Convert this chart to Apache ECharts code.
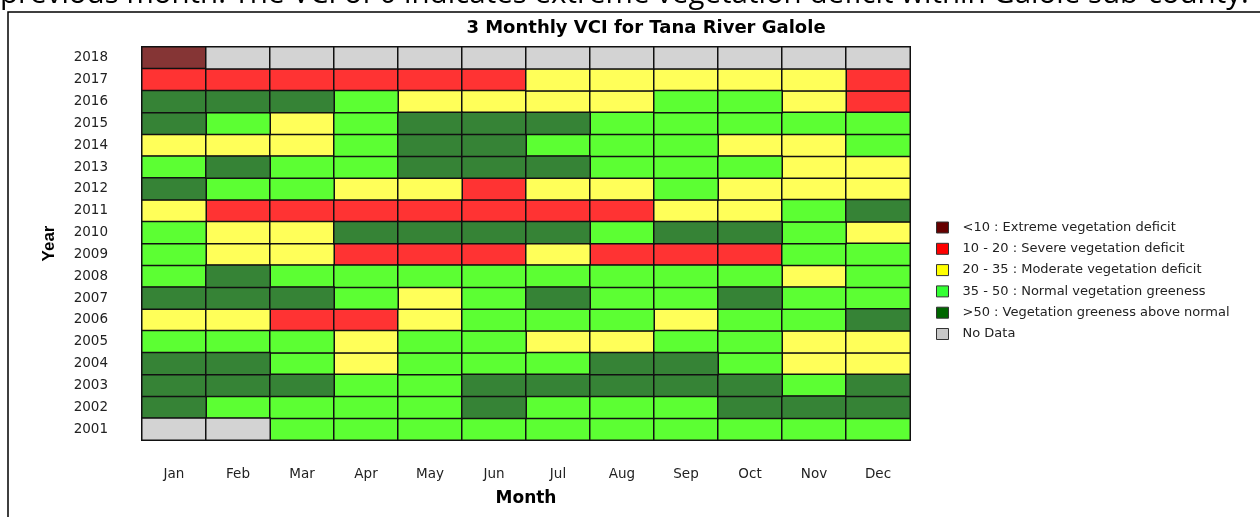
<!DOCTYPE html>
<html>
<head>
<meta charset="utf-8">
<script src="https://cdn.jsdelivr.net/npm/echarts@6/dist/echarts.min.js"></script>
<style>html,body{margin:0;padding:0;background:#fff}#c{width:1260px;height:517px}</style>
</head>
<body>
<div id="c"></div>
<script>
// Month categories (x axis)
const months = ['Jan','Feb','Mar','Apr','May','Jun','Jul','Aug','Sep','Oct','Nov','Dec'];
// Year categories (y axis, bottom to top)
const years = ['2001','2002','2003','2004','2005','2006','2007','2008','2009','2010','2011','2012','2013','2014','2015','2016','2017','2018'];
// VCI class names (legend)
const classNames = ['<10 : Extreme vegetation deficit','10 - 20 : Severe vegetation deficit','20 - 35 : Moderate vegetation deficit','35 - 50 : Normal vegetation greeness','>50 : Vegetation greeness above normal','No Data'];
// Class code per cell: 0 extreme, 1 severe, 2 moderate, 3 normal, 4 above normal, 5 no data
const vci2001 = [5,5,3,3,3,3,3,3,3,3,3,3];
const vci2002 = [4,3,3,3,3,4,3,3,3,4,4,4];
const vci2003 = [4,4,4,3,3,4,4,4,4,4,3,4];
const vci2004 = [4,4,3,2,3,3,3,4,4,3,2,2];
const vci2005 = [3,3,3,2,3,3,2,2,3,3,2,2];
const vci2006 = [2,2,1,1,2,3,3,3,2,3,3,4];
const vci2007 = [4,4,4,3,2,3,4,3,3,4,3,3];
const vci2008 = [3,4,3,3,3,3,3,3,3,3,2,3];
const vci2009 = [3,2,2,1,1,1,2,1,1,1,3,3];
const vci2010 = [3,2,2,4,4,4,4,3,4,4,3,2];
const vci2011 = [2,1,1,1,1,1,1,1,2,2,3,4];
const vci2012 = [4,3,3,2,2,1,2,2,3,2,2,2];
const vci2013 = [3,4,3,3,4,4,4,3,3,3,2,2];
const vci2014 = [2,2,2,3,4,4,3,3,3,2,2,3];
const vci2015 = [4,3,2,3,4,4,4,3,3,3,3,3];
const vci2016 = [4,4,4,3,2,2,2,2,3,3,2,1];
const vci2017 = [1,1,1,1,1,1,2,2,2,2,2,1];
const vci2018 = [0,5,5,5,5,5,5,5,5,5,5,5];

const grid = [vci2001,vci2002,vci2003,vci2004,vci2005,vci2006,vci2007,vci2008,vci2009,vci2010,vci2011,vci2012,vci2013,vci2014,vci2015,vci2016,vci2017,vci2018];
const cellColors = ['#853535','#ff3333','#ffff59','#5cff33','#368336','#d3d3d3'];
const legendColors = ['#660000','#ff0000','#ffff00','#33ff33','#006600','#c8c8c8'];

const series = classNames.map((name, k) => {
  const data = [];
  grid.forEach((row, yi) => row.forEach((code, xi) => { if (code === k) data.push([xi, yi, code]); }));
  return {
    name: name,
    type: 'heatmap',
    data: data,
    itemStyle: { color: cellColors[k], borderColor: '#111', borderWidth: 1.5 },
    emphasis: { disabled: true }
  };
});

const chart = echarts.init(document.getElementById('c'));
chart.setOption({
  animation: false,
  backgroundColor: '#fff',
  title: {
    text: '3 Monthly VCI for Tana River Galole',
    left: 641, top: 14, textAlign: 'center',
    textStyle: { fontFamily: 'DejaVu Sans', fontWeight: 'bold', fontSize: 18, color: '#000' }
  },
  graphic: [
    { type: 'rect', shape: { x: 8, y: 12, width: 1270, height: 520 }, style: { fill: 'none', stroke: '#000', lineWidth: 1.5 }, z: 0 },
    { type: 'text', x: 0, y: 10, style: { text: 'previous month. The VCI of 0 indicates extreme vegetation deficit within Galole sub-county.', font: '29.5px "Open Sans"', fill: '#000', verticalAlign: 'bottom' } }
  ],
  grid: { left: 142, top: 47, width: 768, height: 393 },
  xAxis: {
    type: 'category', data: months,
    name: 'Month', nameLocation: 'middle', nameGap: 50,
    nameTextStyle: { fontFamily: 'DejaVu Sans', fontWeight: 'bold', fontSize: 17, color: '#000' },
    axisLine: { show: true, lineStyle: { color: '#555', width: 1.5 } },
    axisTick: { show: false },
    axisLabel: { margin: 27, fontFamily: 'DejaVu Sans', fontSize: 13.5, color: '#222' },
    splitLine: { show: false }
  },
  yAxis: {
    type: 'category', data: years,
    name: 'Year', nameLocation: 'middle', nameGap: 84, nameRotate: 90,
    nameTextStyle: { fontFamily: 'Liberation Sans', fontWeight: 'bold', fontSize: 17, color: '#000' },
    axisLine: { show: true, lineStyle: { color: '#555', width: 1.5 } },
    axisTick: { show: false },
    axisLabel: { margin: 34, fontFamily: 'DejaVu Sans', fontSize: 13.5, color: '#222' },
    splitLine: { show: false }
  },
  legend: {
    orient: 'vertical', left: 931, top: 216,
    itemWidth: 12, itemHeight: 11, itemGap: 8.3,
    selectedMode: false,
    icon: 'rect',
    textStyle: { fontFamily: 'DejaVu Sans', fontSize: 13, color: '#222', padding: [0,0,0,9] },
    data: classNames.map((n, k) => ({ name: n, itemStyle: { color: legendColors[k], borderColor: '#333', borderWidth: 1 } }))
  },
  series: series
});
</script>
</body>
</html>
